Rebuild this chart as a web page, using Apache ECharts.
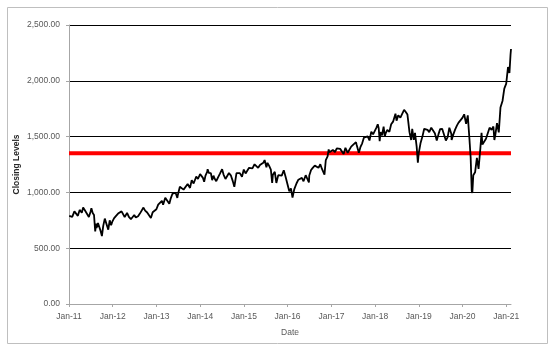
<!DOCTYPE html>
<html>
<head>
<meta charset="utf-8">
<script src="https://cdn.jsdelivr.net/npm/echarts@6/dist/echarts.min.js"></script>
<style>
  html, body { margin: 0; padding: 0; background: #fff; }
  #main { width: 556px; height: 351px; }
</style>
</head>
<body>
<div id="main"></div>
<script>
// closing levels, roughly two points a month plus the turning points
var dates = [
    '2011-01-03','2011-01-14','2011-01-28','2011-02-15','2011-02-28','2011-03-16','2011-03-31','2011-04-18','2011-04-29','2011-05-16','2011-05-31','2011-06-16','2011-06-30','2011-07-07','2011-07-18','2011-07-29','2011-08-08','2011-08-15','2011-08-19','2011-08-31','2011-09-16','2011-09-22','2011-09-30','2011-10-03','2011-10-14','2011-10-27','2011-11-08','2011-11-25','2011-12-07','2011-12-19','2011-12-30',
    '2012-01-13','2012-01-31','2012-02-15','2012-02-29','2012-03-15','2012-03-26','2012-04-10','2012-04-30','2012-05-15','2012-06-01','2012-06-15','2012-06-29','2012-07-12','2012-07-31','2012-08-15','2012-08-31','2012-09-14','2012-09-28','2012-10-15','2012-10-31','2012-11-15','2012-11-30','2012-12-14','2012-12-31',
    '2013-01-15','2013-01-31','2013-02-15','2013-02-25','2013-03-15','2013-03-28','2013-04-18','2013-04-30','2013-05-15','2013-05-31','2013-06-10','2013-06-24','2013-06-28','2013-07-15','2013-07-31','2013-08-15','2013-08-30','2013-09-18','2013-09-30','2013-10-08','2013-10-22','2013-10-31','2013-11-07','2013-11-29','2013-12-13','2013-12-31',
    '2014-01-15','2014-01-24','2014-02-03','2014-02-14','2014-02-28','2014-03-04','2014-03-14','2014-03-31','2014-04-11','2014-04-22','2014-04-30','2014-05-15','2014-05-30','2014-06-16','2014-07-03','2014-07-15','2014-07-31','2014-08-07','2014-08-29','2014-09-15','2014-09-30','2014-10-13','2014-10-31','2014-11-14','2014-11-28','2014-12-16','2014-12-31',
    '2015-01-15','2015-01-30','2015-02-13','2015-02-27','2015-03-13','2015-03-31','2015-04-15','2015-04-30','2015-05-15','2015-05-29','2015-06-12','2015-06-23','2015-07-08','2015-07-17','2015-07-31','2015-08-14','2015-08-25','2015-08-31','2015-09-16','2015-09-29','2015-10-15','2015-10-30','2015-11-13','2015-11-30','2015-12-15','2015-12-31',
    '2016-01-15','2016-01-29','2016-02-11','2016-02-26','2016-03-15','2016-03-31','2016-04-15','2016-04-29','2016-05-13','2016-05-31','2016-06-15','2016-06-27','2016-06-30','2016-07-15','2016-07-29','2016-08-15','2016-08-31','2016-09-15','2016-09-30','2016-10-14','2016-11-04','2016-11-15','2016-11-30','2016-12-09','2016-12-15','2016-12-30',
    '2017-01-13','2017-01-31','2017-02-15','2017-02-28','2017-03-01','2017-03-15','2017-03-31','2017-04-13','2017-04-28','2017-05-17','2017-05-31','2017-06-15','2017-06-30','2017-07-25','2017-07-31','2017-08-18','2017-08-31','2017-09-15','2017-09-29','2017-10-13','2017-10-31','2017-11-15','2017-11-30','2017-12-15','2017-12-29',
    '2018-01-12','2018-01-23','2018-01-31','2018-02-08','2018-02-15','2018-02-28','2018-03-13','2018-03-23','2018-03-30','2018-04-13','2018-04-30','2018-05-15','2018-05-31','2018-06-20','2018-06-29','2018-07-13','2018-07-31','2018-08-15','2018-08-31','2018-09-14','2018-09-28','2018-10-15','2018-10-29','2018-11-07','2018-11-20','2018-11-30','2018-12-14','2018-12-24','2018-12-31',
    '2019-01-15','2019-01-31','2019-02-15','2019-02-28','2019-03-15','2019-03-29','2019-04-15','2019-04-30','2019-05-15','2019-05-31','2019-06-14','2019-06-28','2019-07-15','2019-07-31','2019-08-15','2019-08-30','2019-09-13','2019-09-30','2019-10-02','2019-10-15','2019-10-31','2019-11-15','2019-11-29','2019-12-13','2019-12-31',
    '2020-01-15','2020-01-31','2020-02-14','2020-02-20','2020-02-28','2020-03-09','2020-03-18','2020-03-23','2020-03-31','2020-04-15','2020-04-30','2020-05-14','2020-05-29','2020-06-08','2020-06-15','2020-06-30','2020-07-15','2020-07-31','2020-08-14','2020-08-31','2020-09-15','2020-09-23','2020-09-30','2020-10-15','2020-10-30','2020-11-13','2020-11-30','2020-12-15','2020-12-31',
    '2021-01-15','2021-01-27','2021-01-29','2021-02-05','2021-02-09'
]
var closes = [
    790,806,781,830,823,790,843,818,865,835,850,780,827,858,815,797,650,720,680,726,715,655,644,609,700,765,755,666,750,705,741,
    770,792,810,810,830,846,780,816,780,760,775,798,775,786,810,812,864,837,820,819,770,822,830,849,
    890,902,925,890,953,951,898,947,990,984,995,950,977,1050,1045,1025,1010,1075,1073,1040,1110,1100,1080,1143,1120,1164,
    1165,1130,1095,1150,1183,1208,1175,1173,1110,1150,1127,1100,1135,1170,1208,1160,1120,1110,1174,1150,1101,1050,1173,1175,1173,1140,1205,
    1170,1165,1220,1233,1215,1252,1265,1220,1245,1247,1265,1290,1225,1265,1238,1205,1085,1159,1185,1085,1155,1161,1150,1198,1140,1136,
    1010,1035,953,1030,1080,1114,1130,1130,1100,1154,1150,1090,1152,1200,1220,1240,1240,1220,1252,1210,1160,1290,1322,1385,1360,1357,
    1380,1362,1395,1386,1410,1390,1386,1345,1400,1355,1370,1410,1415,1450,1425,1355,1405,1440,1490,1500,1502,1465,1544,1520,1535,
    1580,1610,1575,1460,1540,1512,1590,1500,1530,1560,1542,1610,1634,1705,1643,1690,1671,1680,1740,1720,1697,1540,1470,1570,1470,1533,1410,1267,1349,
    1440,1500,1570,1575,1560,1540,1580,1591,1530,1466,1520,1567,1570,1575,1465,1495,1580,1523,1470,1515,1562,1598,1625,1625,1668,
    1700,1614,1690,1700,1476,1313,1014,995,1153,1180,1310,1210,1394,1535,1430,1441,1480,1480,1580,1561,1590,1470,1507,1620,1538,1760,1819,1930,1975,
    2123,2070,2073,2233,2285
]
var refLevel = 1350
var tickYears = [2011, 2012, 2013, 2014, 2015, 2016, 2017, 2018, 2019, 2020, 2021]
var yTicks = [0, 500, 1000, 1500, 2000, 2500]

if (dates.length !== closes.length) {
    throw new Error('dates ' + dates.length + ' vs closes ' + closes.length)
}

var xMin = Date.UTC(2011, 0, 1)
var xMax = Date.UTC(2021, 1, 9)
var tickTimes = tickYears.map(function (y) { return Date.UTC(y, 0, 1) })

var lineData = []
for (var i = 0; i < dates.length; i++) {
    lineData.push([new Date(dates[i] + 'T00:00:00Z').getTime(), closes[i]])
}

var font = 'Liberation Sans'
var myChart = echarts.init(document.getElementById('main'), null, {renderer: 'canvas'})

var option = {
    backgroundColor: '#fff',
    animation: false,
    graphic: [{
        type: 'rect',
        shape: {x: 7.5, y: 7.5, width: 540, height: 336},
        style: {fill: 'none', stroke: '#bfbfbf', lineWidth: 1},
        silent: true
    }],
    grid: {
        left: 69,
        right: 45,
        top: 25,
        bottom: 47,
        containLabel: false,
        outerBoundsMode: 'none'
    },
    xAxis: {
        type: 'value',
        min: xMin,
        max: xMax,
        name: 'Date',
        nameLocation: 'middle',
        nameGap: 24,
        nameMoveOverlap: false,
        nameTextStyle: {fontFamily: font, fontSize: 8.5, color: '#595959'},
        axisLine: {show: true, lineStyle: {color: '#a6a6a6', width: 1}},
        axisTick: {show: true, length: 3, customValues: tickTimes, lineStyle: {color: '#a6a6a6'}},
        axisLabel: {
            customValues: tickTimes,
            margin: 8,
            fontFamily: font,
            fontSize: 8.5,
            color: '#595959',
            formatter: function (v) {
                var yy = new Date(v).getUTCFullYear() % 100
                return 'Jan-' + (yy < 10 ? '0' : '') + yy
            }
        },
        splitLine: {show: false}
    },
    yAxis: {
        type: 'value',
        min: yTicks[0],
        max: yTicks[yTicks.length - 1],
        interval: 500,
        name: 'Closing Levels',
        nameLocation: 'middle',
        nameRotate: 90,
        nameGap: 48,
        nameMoveOverlap: false,
        nameTextStyle: {fontFamily: font, fontSize: 8.5, fontWeight: 'bold', color: '#262626'},
        axisLine: {show: true, lineStyle: {color: '#a6a6a6', width: 1}},
        axisTick: {show: true, length: 3, lineStyle: {color: '#a6a6a6'}},
        axisLabel: {
            margin: 9,
            fontFamily: font,
            fontSize: 8.5,
            color: '#595959',
            formatter: function (v) {
                return v.toLocaleString('en-US', {minimumFractionDigits: 2, maximumFractionDigits: 2})
            }
        },
        splitLine: {
            show: true,
            lineStyle: {color: ['#a6a6a6', '#000', '#000', '#000', '#000', '#000'], width: 1}
        }
    },
    series: [{
        name: 'ref',
        type: 'line',
        z: 1,
        symbol: 'none',
        silent: true,
        data: [[xMin, refLevel], [xMax, refLevel]],
        lineStyle: {color: '#ff0000', width: 4}
    }, {
        name: 'Closing Levels',
        type: 'line',
        z: 2,
        symbol: 'none',
        data: lineData,
        lineStyle: {color: '#000', width: 1.8}
    }]
}

myChart.setOption(option)
window.onresize = myChart.resize
</script>
</body>
</html>
